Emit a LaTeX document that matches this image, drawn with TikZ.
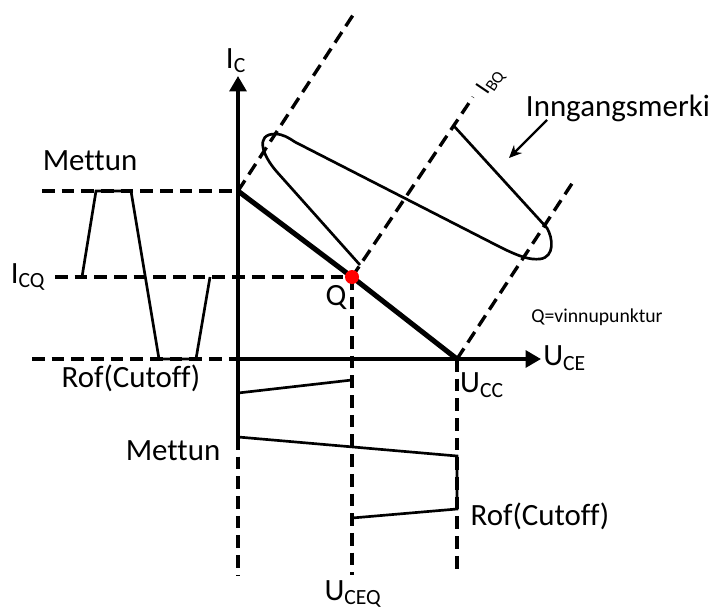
\documentclass[tikz,border=0pt]{standalone}
\usepackage{fontspec}
\setmainfont{Carlito}[Ligatures=NoCommon]
\usetikzlibrary{arrows.meta}

\begin{document}
\begin{tikzpicture}[x=0.025cm, y=-0.025cm, >={Triangle[length=11pt,width=12pt]},
    axis/.style={line width=2.6pt},
    guide/.style={line width=2.4pt, dash pattern=on 9pt off 5pt},
    wave/.style={line width=1.9pt, line join=miter},
    lbl/.style={font=\fontsize{22}{25}\selectfont, inner sep=0pt},
    small/.style={font=\fontsize{14}{16}\selectfont, inner sep=0pt}]
    \useasboundingbox (0,0) rectangle (716,610);

    % Key points of the load line
    \coordinate (Isat) at (238,191);
    \coordinate (Q) at (352,277);
    \coordinate (Ucc) at (457,359);
    \coordinate (O) at (238,359);

    % Horizontal guidelines to the left
    \coordinate (mettunL) at (42,191);
    \coordinate (icqL) at (55,277);
    \coordinate (cutL) at (32,359);
    \draw[guide] (mettunL) -- (Isat);
    \draw[guide] (icqL) -- (Q);
    \draw[guide] (cutL) -- (O);

    % Vertical guidelines downwards
    \coordinate (yEnd) at (238,575);
    \coordinate (ceqEnd) at (352,575);
    \coordinate (ccEnd) at (457,575);
    \draw[guide] (238,437) -- (yEnd);
    \draw[guide] (Q) -- (ceqEnd);
    \draw[guide] (Ucc) -- (ccEnd);

    % Slanted input characteristic lines
    \coordinate (d1) at (355,12);
    \coordinate (d2) at (473,97);
    \coordinate (d3) at (573,182);
    \draw[guide] (Isat) -- (d1);
    \draw[guide] (Q) -- (d2);
    \draw[guide] (Ucc) -- (d3);

    % Axes
    \coordinate (yTop) at (238,76);
    \coordinate (xEnd) at (541,359);
    \draw[axis, ->] (238,438) -- (yTop);
    \draw[axis, ->] (O) -- (xEnd);

    % Load line and operating point
    \draw[line width=3.6pt] (Isat) -- (Q) -- (Ucc);
    \fill[red] (Q) circle (7);

    % Input current signal (left)
    \draw[wave] (82,277) -- (96,191) -- (131,191) -- (159,359) -- (196,359) -- (210,277);

    % Output voltage signal (below)
    \draw[wave] (352,380) -- (238,393) -- (238,437) -- (457,456) -- (457,509) -- (352,518);

    % Input signal along the I_B lines
    \draw[wave] (360,265) -- (277,172) .. controls (262,155) and (255,134) .. (275,134)
        .. controls (283,134) and (289,138) .. (295,142) -- (500,247)
        .. controls (520,257) and (530,260) .. (540,259)
        .. controls (555,257) and (553,238) .. (547,228) -- (453,125);

    % Labels
    \node[lbl, anchor=south] (ic) at (236,73) {I\textsubscript{C}};
    \node[lbl] (mettunTop) at (90,161) {Mettun};
    \node[lbl] (icq) at (28,277) {I\textsubscript{CQ}};
    \node[lbl] (cutTop) at (131,378) {Rof(Cutoff)};
    \node[lbl, anchor=west] (uce) at (543,358) {U\textsubscript{CE}};
    \node[lbl] (ucc) at (482,385) {U\textsubscript{CC}};
    \node[lbl] (qlbl) at (336,298) {Q};
    \node[small] (qtext) at (597,317) {Q=vinnupunktur};
    \node[font=\fontsize{17}{19}\selectfont, inner sep=0pt, rotate=56] (ibq) at (491,82) {I\textsubscript{BQ}};
    \node[lbl] (inn) at (618,108) {Inngangsmerki};
    \node[lbl] (mettunBot) at (173,451) {Mettun};
    \node[lbl] (cutBot) at (540,516) {Rof(Cutoff)};
    \node[lbl] (uceq) at (353,594) {U\textsubscript{CEQ}};

    % Pointer to the input signal
    \coordinate (innTip) at (509,158);
    \draw[line width=1.6pt, -{Stealth[length=9pt,width=8pt]}] (547,120) -- (innTip);
\end{tikzpicture}
\end{document}
